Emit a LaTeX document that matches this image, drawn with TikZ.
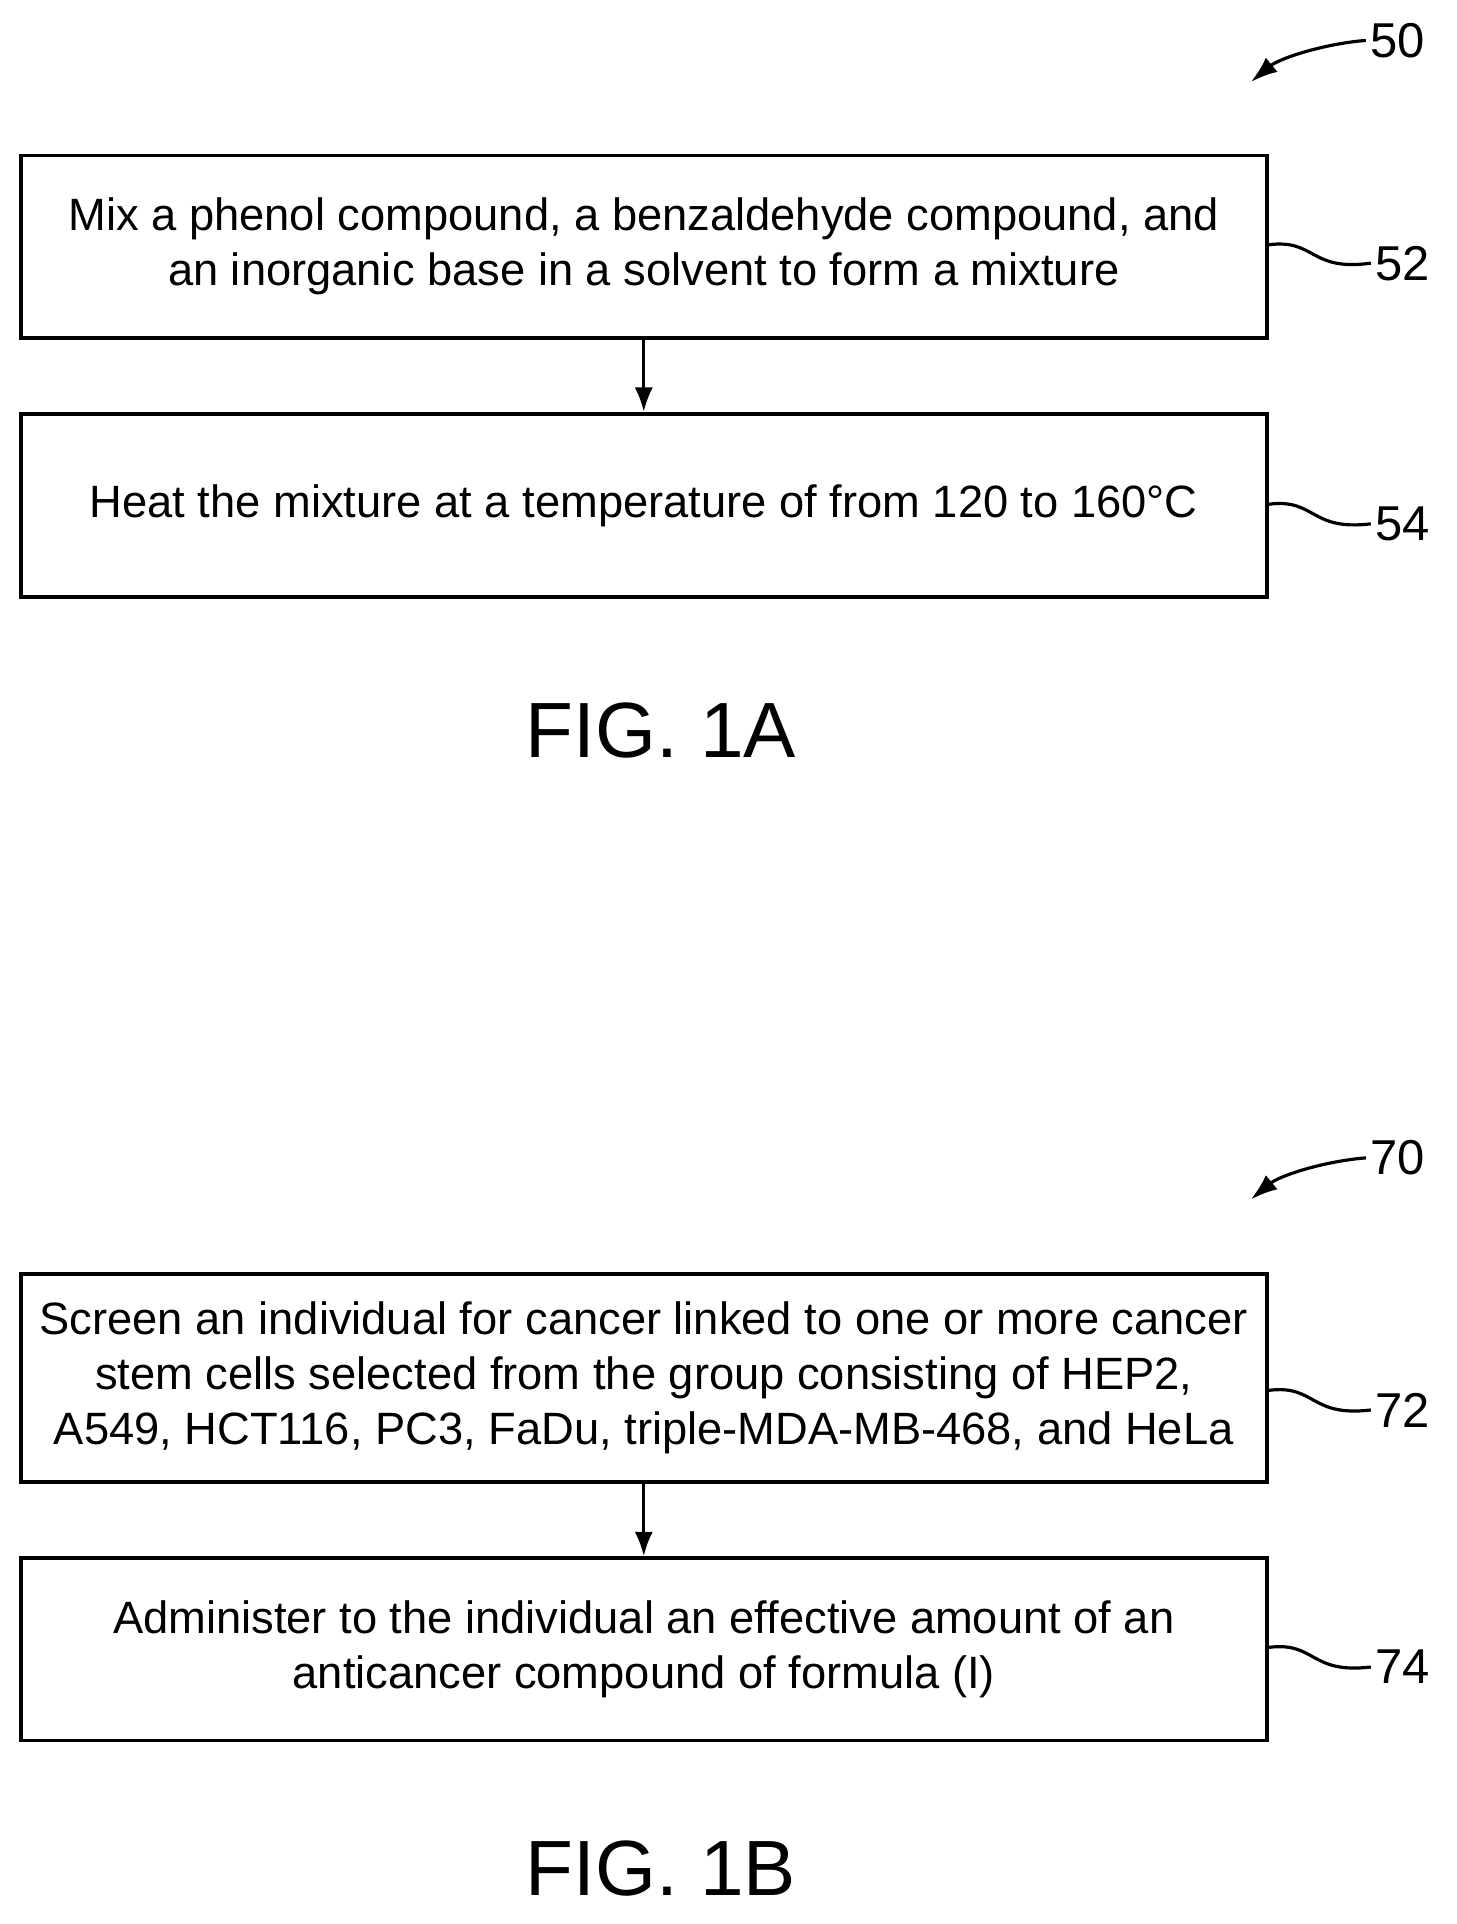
\documentclass[tikz,border=0pt]{standalone}
\usepackage{fontspec}
\setmainfont{Liberation Sans}
\usetikzlibrary{arrows.meta}
\begin{document}
\begin{tikzpicture}[x=1pt,y=-1pt,
  box/.style={draw,line width=3pt,minimum width=1018pt,inner sep=0pt,align=center,font=\fontsize{37}{45}\selectfont},
  conn/.style={line width=2.6pt,-{Latex[length=20pt,width=15pt]}},
  refl/.style={font=\fontsize{40}{44}\selectfont},
  fig/.style={font=\fontsize{64}{70}\selectfont},
  sq/.style={line width=2.6pt}]
\useasboundingbox (0,0) rectangle (1190,1572);
\node[box,minimum height=149pt] (b52) at (526,201.5) {Mix a phenol compound, a benzaldehyde compound, and\\an inorganic base in a solvent to form a mixture};
\node[box,minimum height=150pt] (b54) at (526,413) {Heat the mixture at a temperature of from 120 to 160°C};
\draw[conn] (b52.south) -- (b54.north);
\node[fig] (f1a) at (540,597) {FIG. 1A};
\node[refl,anchor=west] (r50) at (1116,33) {50};
\draw[line width=2.6pt,-{Latex[length=22pt,width=15pt]}] (r50.west) .. controls (1080,36) and (1045,48) .. (1022,67);
\node[refl,anchor=west] (r52) at (1120,215) {52};
\draw[sq] (b52.east |- 0,200) .. controls (1075,195) and (1070,222) .. (r52.west);
\node[refl,anchor=west] (r54) at (1120,428) {54};
\draw[sq] (b54.east |- 0,412) .. controls (1075,407) and (1070,434) .. (r54.west);

\node[box,minimum height=170pt] (b72) at (526,1126) {Screen an individual for cancer linked to one or more cancer\\stem cells selected from the group consisting of HEP2,\\A549, HCT116, PC3, FaDu, triple-MDA-MB-468, and HeLa};
\node[box,minimum height=149pt] (b74) at (526,1347.5) {Administer to the individual an effective amount of an\\anticancer compound of formula (I)};
\draw[conn] (b72.south) -- (b74.north);
\node[fig] (f1b) at (540,1527) {FIG. 1B};
\node[refl,anchor=west] (r70) at (1116,946) {70};
\draw[line width=2.6pt,-{Latex[length=22pt,width=15pt]}] (r70.west) .. controls (1080,949) and (1045,961) .. (1022,980);
\node[refl,anchor=west] (r72) at (1120,1152) {72};
\draw[sq] (b72.east |- 0,1136) .. controls (1075,1131) and (1070,1158) .. (r72.west);
\node[refl,anchor=west] (r74) at (1120,1362) {74};
\draw[sq] (b74.east |- 0,1346) .. controls (1075,1341) and (1070,1368) .. (r74.west);
\end{tikzpicture}
\end{document}
